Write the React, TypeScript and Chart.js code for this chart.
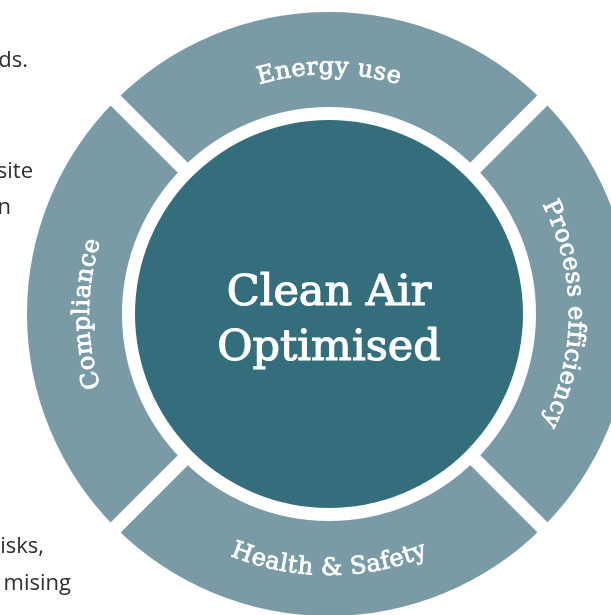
import React, { useEffect, useRef } from "react";
import { Chart, registerables } from "chart.js";

Chart.register(...registerables);

// ---- data ----
const segmentLabels = ["Energy use", "Process efficiency", "Health & Safety", "Compliance"];
const segmentValues = [1, 1, 1, 1];
const centerLines = ["Clean Air", "Optimised"];
const sideFragments = ["ds.", "site", "n", "isks,", "mising"];

// ---- style / layout ----
const RING_COLOR = "#7a9ba6";
const CENTER_COLOR = "#346e7d";
const SIDE_TEXT_COLOR = "#2e2e2e";
const SIDE_LAYOUT = [
  { right: 28, baseline: 67 },
  { right: 33, baseline: 178 },
  { right: 11, baseline: 214 },
  { right: 44, baseline: 553 },
  { right: 71, baseline: 590 },
];
const CANVAS_W = 658;
const CANVAS_H = 628;
const GAP = 14;
const OUTER_R = 302;
const INNER_R = 207;
const CENTER_R = 194;

function boldText(ctx: CanvasRenderingContext2D, t: string, x: number, y: number, w: number) {
  ctx.fillText(t, x, y);
  ctx.lineWidth = w;
  ctx.lineJoin = "round";
  ctx.strokeText(t, x, y);
}

function drawCurved(
  ctx: CanvasRenderingContext2D,
  text: string,
  cx: number,
  cy: number,
  r: number,
  mid: number,
  inward: boolean,
  spacing: number
) {
  const chars = Array.from(text);
  const widths = chars.map((c) => ctx.measureText(c).width + spacing);
  const total = widths.reduce((a, b) => a + b, 0) - spacing;
  let acc = 0;
  ctx.textAlign = "center";
  ctx.textBaseline = "alphabetic";
  chars.forEach((c, i) => {
    const w = widths[i] - spacing;
    const along = acc + w / 2 - total / 2;
    const ang = inward ? mid - along / r : mid + along / r;
    const x = cx + r * Math.cos(ang);
    const y = cy + r * Math.sin(ang);
    ctx.save();
    ctx.translate(x, y);
    ctx.rotate(inward ? ang - Math.PI / 2 : ang + Math.PI / 2);
    boldText(ctx, c, 0, 0, 0.8);
    ctx.restore();
    acc += widths[i];
  });
}

const decorPlugin = {
  id: "decor",
  afterDatasetsDraw(chart: any) {
    const ctx: CanvasRenderingContext2D = chart.ctx;
    const meta = chart.getDatasetMeta(0);
    const first = meta.data[0];
    const cx = first.x;
    const cy = first.y;
    ctx.save();
    // center disc
    ctx.fillStyle = CENTER_COLOR;
    ctx.beginPath();
    ctx.arc(cx, cy, CENTER_R, 0, Math.PI * 2);
    ctx.fill();
    ctx.fillStyle = "#ffffff";
    ctx.strokeStyle = "#ffffff";
    ctx.font = "43px 'DejaVu Serif'";
    ctx.textAlign = "center";
    ctx.textBaseline = "alphabetic";
    boldText(ctx, centerLines[0], cx, cy - 9, 1.2);
    boldText(ctx, centerLines[1], cx, cy + 46, 1.2);

    // ring labels
    ctx.font = "24px 'DejaVu Serif'";
    meta.data.forEach((arc: any, i: number) => {
      const p = arc.getProps(["startAngle", "endAngle"], true);
      const mid = (p.startAngle + p.endAngle) / 2;
      const inward = Math.sin(mid) > 0.7;
      const r = inward ? 261 : 240;
      drawCurved(ctx, String(chart.data.labels[i]), cx, cy, r, mid, inward, 0.5);
    });

    // cropped paragraph fragments on the left
    ctx.fillStyle = SIDE_TEXT_COLOR;
    ctx.font = "22px 'Open Sans'";
    ctx.textAlign = "right";
    sideFragments.forEach((t, i) => {
      ctx.fillText(t, SIDE_LAYOUT[i].right, SIDE_LAYOUT[i].baseline);
    });
    ctx.restore();
  },
};

export default function App() {
  const ref = useRef<HTMLCanvasElement | null>(null);
  useEffect(() => {
    if (!ref.current) return;
    const outer = OUTER_R + GAP / 2;
    const inner = INNER_R - GAP / 2;
    const chart = new Chart(ref.current, {
      type: "doughnut",
      data: {
        labels: segmentLabels,
        datasets: [
          {
            data: segmentValues,
            backgroundColor: RING_COLOR,
            borderColor: "#ffffff",
            borderWidth: GAP,
            borderAlign: "center",
            borderJoinStyle: "miter",
            hoverOffset: 0,
          } as any,
        ],
      },
      options: {
        responsive: false,
        maintainAspectRatio: false,
        animation: false,
        events: [],
        rotation: -45,
        radius: outer,
        cutout: `${(inner / outer) * 100}%`,
        layout: { padding: 0 },
        plugins: { legend: { display: false }, tooltip: { enabled: false } },
      } as any,
      plugins: [decorPlugin],
    });
    return () => chart.destroy();
  }, []);
  return (
    <div
      style={{
        position: "fixed",
        left: 0,
        top: 0,
        width: 611,
        height: 615,
        overflow: "hidden",
        background: "#ffffff",
      }}
    >
      <canvas
        ref={ref}
        width={CANVAS_W}
        height={CANVAS_H}
        style={{ display: "block", width: CANVAS_W, height: CANVAS_H }}
      />
    </div>
  );
}
